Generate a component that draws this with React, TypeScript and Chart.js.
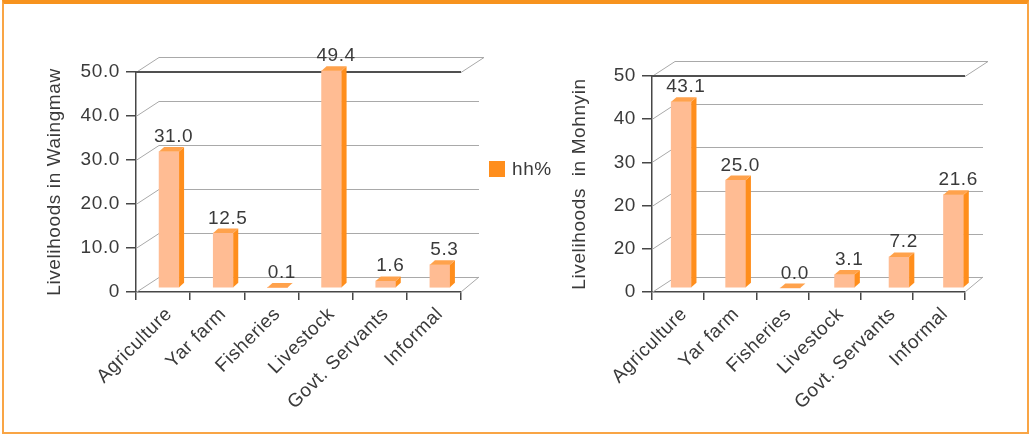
import React, { useEffect, useRef } from "react";
import { Chart, registerables } from "chart.js";

Chart.register(...registerables);

// ---- data ----
const categories = ["Agriculture", "Yar farm", "Fisheries", "Livestock", "Govt. Servants", "Informal"];
const waingmawValues = [31.0, 12.5, 0.1, 49.4, 1.6, 5.3];
const mohnyinValues = [43.1, 25.0, 0.0, 3.1, 7.2, 21.6];
const waingmawTickLabels = ["0", "10.0", "20.0", "30.0", "40.0", "50.0"];
const mohnyinTickLabels = ["0", "20", "20", "30", "40", "50"];
const seriesLabel = "hh%";

// ---- styling ----
const FONT = "'Liberation Sans', Arial, sans-serif";
const FONT_SIZE = 19;
const LETTER_SPACING = "0.6px";
const TEXT = "#3a3a3a";
const AXIS = "#474747";
const GRID = "#a9a9a9";
const FRONT = "#FFBC93";
const SIDE = "#FF8E1C";
const TOP = "#FFA24C";
const LEGEND_BOX = "#FF8E1C";

// wall depth and bar depth
const WALL_DX = 23;
const WALL_DY = -15;
const BAR_D = 5;
const BAR_DH = 4.5;

type Layout = {
  width: number;
  height: number;
  padTop: number;
  padRight: number;
  yWidth: number;
  xHeight: number;
  titlePad: number;
  barDx: number;
  barDy: number;
  barSx: number;
  barThickness: number;
  legend: boolean;
};

const spacingPlugin = {
  id: "letterSpacing",
  beforeUpdate(chart: any) {
    chart.ctx.letterSpacing = LETTER_SPACING;
  },
  beforeLayout(chart: any) {
    chart.ctx.letterSpacing = LETTER_SPACING;
  },
  beforeDraw(chart: any) {
    chart.ctx.letterSpacing = LETTER_SPACING;
  },
};

function makeBox3dPlugin(lay: Layout) {
  const line = (ctx: CanvasRenderingContext2D, x1: number, y1: number, x2: number, y2: number) => {
    ctx.beginPath();
    ctx.moveTo(x1, y1);
    ctx.lineTo(x2, y2);
    ctx.stroke();
  };
  return {
    id: "box3d",
    beforeDatasetsDraw(chart: any) {
      const { ctx, chartArea } = chart;
      const { left: L, right: R, top: T, bottom: B } = chartArea;
      const y = chart.scales.y;
      ctx.save();
      ctx.strokeStyle = GRID;
      ctx.lineWidth = 1;
      y.ticks.forEach((t: any) => {
        const py = Math.round(y.getPixelForValue(t.value)) + 0.5;
        line(ctx, L, py, L + WALL_DX, py + WALL_DY);
        if (t.value < y.max) line(ctx, L + WALL_DX, py + WALL_DY, R + WALL_DX - 5, py + WALL_DY);
      });
      const tp = Math.round(T) + 0.5;
      line(ctx, L + WALL_DX, tp + WALL_DY, R + WALL_DX, tp + WALL_DY);
      line(ctx, R, tp, R + WALL_DX, tp + WALL_DY);
      line(ctx, R, B, R + WALL_DX - 5, B + WALL_DY);
      ctx.strokeStyle = "#505050";
      ctx.lineWidth = 2;
      line(ctx, L, Math.round(T), R, Math.round(T));
      ctx.restore();

      // bars sit a little behind the front plane
      ctx.save();
      ctx.translate(L + lay.barDx, lay.barDy);
      ctx.scale(lay.barSx, 1);
      ctx.translate(-L, 0);
    },
    afterDatasetsDraw(chart: any) {
      const { ctx, chartArea } = chart;
      const L = chartArea.left;
      const meta = chart.getDatasetMeta(0);
      meta.data.forEach((el: any) => {
        const { x, y, base, width } = el.getProps(["x", "y", "base", "width"], true);
        const xl = x - width / 2;
        const xr = x + width / 2;
        ctx.fillStyle = SIDE;
        ctx.beginPath();
        ctx.moveTo(xr, y);
        ctx.lineTo(xr + BAR_D, y - BAR_DH);
        ctx.lineTo(xr + BAR_D, base - BAR_DH);
        ctx.lineTo(xr, base);
        ctx.closePath();
        ctx.fill();
        ctx.fillStyle = TOP;
        ctx.beginPath();
        ctx.moveTo(xl, y);
        ctx.lineTo(xr, y);
        ctx.lineTo(xr + BAR_D, y - BAR_DH);
        ctx.lineTo(xl + BAR_D, y - BAR_DH);
        ctx.closePath();
        ctx.fill();
      });
      ctx.restore();

      // value labels
      const values = chart.data.datasets[0].data as number[];
      ctx.save();
      ctx.font = `${FONT_SIZE}px ${FONT}`;
      ctx.fillStyle = TEXT;
      ctx.textAlign = "center";
      ctx.textBaseline = "alphabetic";
      meta.data.forEach((el: any, i: number) => {
        const { x, y } = el.getProps(["x", "y"], true);
        const tx = L + lay.barDx + (x - L) * lay.barSx + (BAR_D / 2) * lay.barSx + 2;
        const ty = y + lay.barDy - BAR_DH - 5;
        ctx.fillText(values[i].toFixed(1), tx, ty);
      });
      ctx.restore();
    },
    afterDraw(chart: any) {
      if (!lay.legend) return;
      const { ctx, chartArea } = chart;
      const ds = chart.data.datasets[0];
      const bx = chartArea.right + 28;
      const by = chartArea.top + 89;
      ctx.save();
      ctx.fillStyle = LEGEND_BOX;
      ctx.fillRect(bx, by, 16, 16);
      ctx.font = `${FONT_SIZE}px ${FONT}`;
      ctx.fillStyle = TEXT;
      ctx.textAlign = "left";
      ctx.textBaseline = "middle";
      ctx.fillText(ds.label, bx + 23, by + 8.5);
      ctx.restore();
    },
  };
}

function BarChart3D(props: {
  values: number[];
  tickLabels: string[];
  title: string;
  lay: Layout;
  style: React.CSSProperties;
}) {
  const ref = useRef<HTMLCanvasElement | null>(null);
  const { values, tickLabels, title, lay } = props;

  useEffect(() => {
    if (!ref.current) return;
    const chart = new Chart(ref.current, {
      type: "bar",
      data: {
        labels: categories,
        datasets: [
          {
            label: seriesLabel,
            data: values,
            backgroundColor: FRONT,
            borderWidth: 0,
            barThickness: lay.barThickness,
            clip: false as any,
          },
        ],
      },
      options: {
        responsive: false,
        animation: false,
        devicePixelRatio: 1,
        layout: { padding: { top: lay.padTop, right: lay.padRight, left: 0, bottom: 0 } },
        plugins: {
          legend: { display: false },
          tooltip: { enabled: false },
        },
        scales: {
          x: {
            offset: true,
            ticks: {
              minRotation: 45,
              maxRotation: 45,
              autoSkip: false,
              padding: 3,
              labelOffset: 6,
              color: TEXT,
              font: { family: FONT, size: FONT_SIZE },
            },
            grid: { offset: true, drawOnChartArea: false, tickLength: 8, color: AXIS, lineWidth: 1.5 },
            border: { color: AXIS, width: 1.5 },
            afterFit: (s: any) => {
              s.height = lay.xHeight;
            },
          },
          y: {
            min: 0,
            max: 50,
            ticks: {
              stepSize: 10,
              padding: 6,
              color: TEXT,
              font: { family: FONT, size: FONT_SIZE },
              callback: (_v: any, i: number) => tickLabels[i],
            },
            grid: { drawOnChartArea: false, tickLength: 10, color: AXIS, lineWidth: 1.5 },
            border: { color: AXIS, width: 1.5 },
            title: {
              display: true,
              text: title,
              color: TEXT,
              font: { family: FONT, size: FONT_SIZE },
              padding: { top: lay.titlePad, bottom: 0 },
            },
            afterFit: (s: any) => {
              s.width = lay.yWidth;
            },
          },
        },
      },
      plugins: [spacingPlugin, makeBox3dPlugin(lay)],
    });
    return () => chart.destroy();
  }, []);

  return <canvas ref={ref} width={lay.width} height={lay.height} style={props.style} />;
}

const leftLayout: Layout = {
  width: 560,
  height: 435,
  padTop: 72,
  padRight: 99,
  yWidth: 136,
  xHeight: 143,
  titlePad: 43,
  barDx: 6,
  barDy: -4,
  barSx: 1,
  barThickness: 20,
  legend: true,
};

const rightLayout: Layout = {
  width: 471,
  height: 435,
  padTop: 76,
  padRight: 66,
  yWidth: 92,
  xHeight: 143,
  titlePad: 8,
  barDx: 2,
  barDy: -4,
  barSx: 1.044,
  barThickness: 19.2,
  legend: false,
};

export default function App() {
  return (
    <div
      style={{
        position: "fixed",
        left: 0,
        top: 0,
        width: 1031,
        height: 435,
        background: "#ffffff",
        overflow: "hidden",
      }}
    >
      <BarChart3D
        values={waingmawValues}
        tickLabels={waingmawTickLabels}
        title="Livelihoods in Waingmaw"
        lay={leftLayout}
        style={{ position: "absolute", left: 0, top: 0, width: 560, height: 435 }}
      />
      <BarChart3D
        values={mohnyinValues}
        tickLabels={mohnyinTickLabels}
        title="Livelihoods  in Mohnyin"
        lay={rightLayout}
        style={{ position: "absolute", left: 560, top: 0, width: 471, height: 435 }}
      />
      <div
        style={{
          position: "absolute",
          left: 2,
          top: 0,
          width: 1027,
          height: 434,
          boxSizing: "border-box",
          borderTop: "4px solid #F7931E",
          borderLeft: "2px solid #F9A545",
          borderRight: "2px solid #F9A545",
          borderBottom: "2px solid #F9A545",
          pointerEvents: "none",
        }}
      />
    </div>
  );
}
